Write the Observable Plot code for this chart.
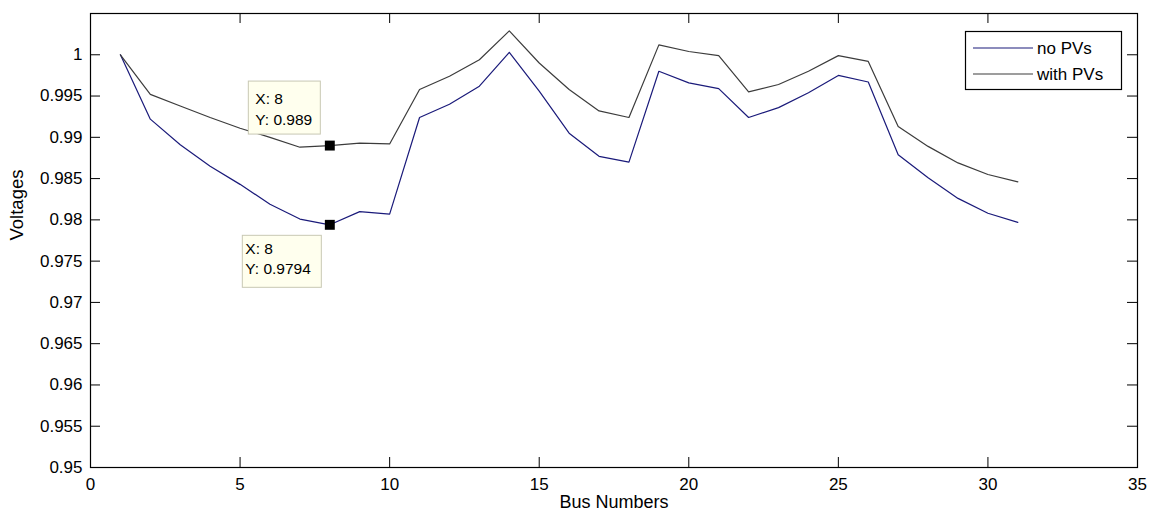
<!DOCTYPE html>
<html><head><meta charset="utf-8">
<script src="https://cdn.jsdelivr.net/npm/d3@7"></script>
<script src="https://cdn.jsdelivr.net/npm/@observablehq/plot@0.6"></script>
<style>html,body{margin:0;padding:0;background:#fff;} svg{display:block;}</style>
</head><body><div id="chart"></div>
<script>
// ---- data ----
const busNumbers = [1,2,3,4,5,6,7,8,9,10,11,12,13,14,15,16,17,18,19,20,21,22,23,24,25,26,27,28,29,30,31];
const noPVs = [1.0000,0.9922,0.9891,0.9865,0.9843,0.9819,0.9801,0.9794,0.9810,0.9807,0.9924,0.9940,0.9962,1.0003,0.9956,0.9905,0.9877,0.9870,0.9980,0.9966,0.9959,0.9924,0.9936,0.9954,0.9975,0.9967,0.9879,0.9851,0.9826,0.9808,0.9797];
const withPVs = [1.0000,0.9952,0.9938,0.9924,0.9911,0.9900,0.9888,0.9890,0.9893,0.9892,0.9958,0.9974,0.9994,1.0029,0.9990,0.9958,0.9932,0.9924,1.0012,1.0004,0.9999,0.9955,0.9964,0.9980,0.9999,0.9992,0.9913,0.9889,0.9869,0.9855,0.9846];
const seriesNames = ["no PVs","with PVs"];
const seriesColors = ["#1a1a7a","#3c3c3c"];
const xTicks = [0,5,10,15,20,25,30,35];
const yTicks = [0.95,0.955,0.96,0.965,0.97,0.975,0.98,0.985,0.99,0.995,1];
const yTickLabels = ["0.95","0.955","0.96","0.965","0.97","0.975","0.98","0.985","0.99","0.995","1"];
const xLabel = "Bus Numbers";
const yLabel = "Voltages";
const tipBus = 8;

// ---- layout ----
const W = 1152, H = 529, mL = 90, mR = 15, mT = 13, mB = 62;
const plotW = W - mL - mR, plotH = H - mT - mB, tickLen = 10;
const font = "'Liberation Sans', Arial, sans-serif";

const series = [noPVs, withPVs];
const rows = seriesNames.flatMap((s, k) => busNumbers.map((b, i) => ({bus: b, v: series[k][i], s})));
const tipIndex = busNumbers.indexOf(tipBus);
const tips = seriesNames.map((s, k) => ({bus: busNumbers[tipIndex], v: series[k][tipIndex], s}));

const plot = Plot.plot({
  width: W, height: H,
  marginLeft: mL, marginRight: mR, marginTop: mT, marginBottom: mB,
  style: {fontFamily: font, fontSize: "17px", color: "#000", background: "#fff", overflow: "visible"},
  x: {domain: [0, 35]},
  y: {domain: [0.95, 1.005]},
  color: {domain: seriesNames, range: seriesColors},
  marks: [
    Plot.tickX(xTicks, {x: d => d, insetTop: plotH - tickLen, stroke: "#000"}),
    Plot.tickX(xTicks, {x: d => d, insetBottom: plotH - tickLen, stroke: "#000"}),
    Plot.tickY(yTicks, {y: d => d, insetRight: plotW - tickLen, stroke: "#000"}),
    Plot.tickY(yTicks, {y: d => d, insetLeft: plotW - tickLen, stroke: "#000"}),
    Plot.axisX({ticks: xTicks, tickSize: 0, tickPadding: 10, label: null, tickFormat: d => String(d)}),
    Plot.axisY({ticks: yTicks, tickSize: 0, tickPadding: 8, label: null, tickFormat: d => yTickLabels[yTicks.indexOf(d)]}),
    Plot.line(rows, {x: "bus", y: "v", z: "s", stroke: "s", strokeWidth: 1.2}),
    Plot.dot(tips, {x: "bus", y: "v", symbol: "square", r: 5.6, fill: "#000", stroke: null}),
    Plot.frame({stroke: "#000", strokeWidth: 1.2}),
    Plot.text([xLabel], {frameAnchor: "bottom", dy: 40, text: d => d, fontSize: 18}),
    Plot.text([yLabel], {frameAnchor: "left", dx: -73, rotate: -90, text: d => d, fontSize: 18.5})
  ]
});
document.getElementById("chart").appendChild(plot);

const sx = plot.scale("x"), sy = plot.scale("y");
const svg = d3.select(plot);

// ---- data tips ----
const tipSpecs = [
  {t: tips[1], box: [-81, -64, 72, 53], tx: -74, ty: [-47, -26]},
  {t: tips[0], box: [-87, 11, 79, 52], tx: -84, ty: [24, 44]}
];
for (const sp of tipSpecs) {
  const px = sx.apply(sp.t.bus), py = sy.apply(sp.t.v);
  const g = svg.append("g").attr("font-family", font).attr("font-size", 15.5).attr("text-anchor", "start");
  g.append("rect").attr("x", px + sp.box[0]).attr("y", py + sp.box[1])
    .attr("width", sp.box[2]).attr("height", sp.box[3])
    .attr("fill", "#ffffee").attr("stroke", "#c8c8b4").attr("stroke-width", 1);
  g.append("text").attr("x", px + sp.tx).attr("y", py + sp.ty[0]).attr("dominant-baseline", "central")
    .text(`X: ${sp.t.bus}`);
  g.append("text").attr("x", px + sp.tx).attr("y", py + sp.ty[1]).attr("dominant-baseline", "central")
    .text(`Y: ${sp.t.v}`);
}

// ---- legend ----
const lg = svg.append("g").attr("font-family", font).attr("font-size", 17).attr("text-anchor", "start");
lg.append("rect").attr("x", 965.5).attr("y", 31.5).attr("width", 156).attr("height", 58)
  .attr("fill", "#fff").attr("stroke", "#000").attr("stroke-width", 1.2);
seriesNames.forEach((s, k) => {
  const y = 48 + k * 26;
  lg.append("line").attr("x1", 973).attr("x2", 1033).attr("y1", y).attr("y2", y)
    .attr("stroke", seriesColors[k]).attr("stroke-width", 1.2);
  lg.append("text").attr("x", 1037).attr("y", y).attr("dominant-baseline", "central").text(s);
});
</script>
</body></html>
